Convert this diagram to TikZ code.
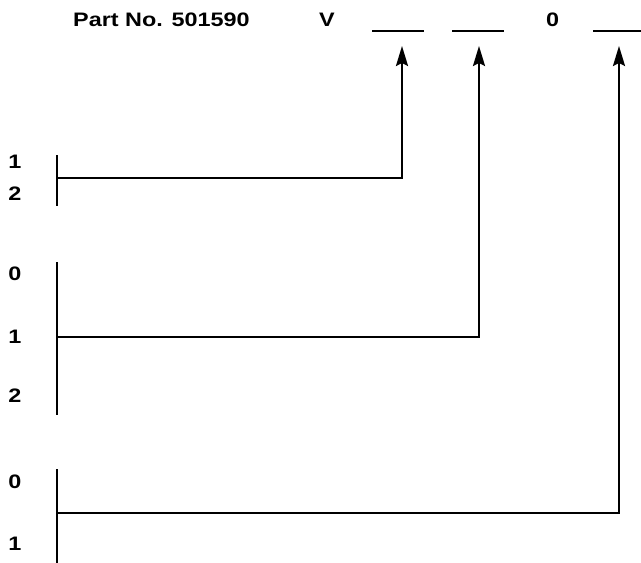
\documentclass[tikz,border=0pt]{standalone}
\usepackage{fontspec}
\setmainfont{Liberation Sans}[FakeStretch=1.2]
\usetikzlibrary{arrows.meta}

\begin{document}
\begin{tikzpicture}[
      x=1pt, y=-1pt,
      every node/.style={font=\fontsize{19.5}{22}\selectfont\bfseries, inner sep=0pt},
      digit/.style={anchor=base},
      bar/.style={line width=2.2pt},
      lead/.style={line width=2.2pt, -{Stealth[length=20pt, width=12pt, inset=3pt]}},
    ]
    \useasboundingbox (0,0) rectangle (641,563);

    % Part number
    \node[anchor=base west] (part) at (73,26) {Part No. 501590};
    \node[anchor=base west] (v) at (319,26) {V};
    \node[anchor=base west] (zero) at (546,26) {0};

    % Blanks
    \coordinate (s1w) at (372,31); \coordinate (s1e) at (424,31);
    \coordinate (s2w) at (452,31); \coordinate (s2e) at (504,31);
    \coordinate (s3w) at (593,31); \coordinate (s3e) at (641,31);
    \draw[bar] (s1w) -- (s1e);
    \draw[bar] (s2w) -- (s2e);
    \draw[bar] (s3w) -- (s3e);

    % Arrow tips
    \coordinate (a1) at (402,46);
    \coordinate (a2) at (479,46);
    \coordinate (a3) at (619,46);

    % Group 1
    \node[digit] (g1a) at (15,168) {1};
    \node[digit] (g1b) at (15,200) {2};
    \coordinate (g1t) at (57,155); \coordinate (g1d) at (57,206);
    \coordinate (j1) at (57,178);
    \draw[bar] (g1t) -- (g1d);
    \draw[lead] (j1) -| (a1);

    % Group 2
    \node[digit] (g2a) at (15,280) {0};
    \node[digit] (g2b) at (15,343) {1};
    \node[digit] (g2c) at (15,402) {2};
    \coordinate (g2t) at (57,262); \coordinate (g2d) at (57,415);
    \coordinate (j2) at (57,337);
    \draw[bar] (g2t) -- (g2d);
    \draw[lead] (j2) -| (a2);

    % Group 3
    \node[digit] (g3a) at (15,488) {0};
    \node[digit] (g3b) at (15,550) {1};
    \coordinate (g3t) at (57,469); \coordinate (g3d) at (57,563);
    \coordinate (j3) at (57,513);
    \draw[bar] (g3t) -- (g3d);
    \draw[lead] (j3) -| (a3);
  \end{tikzpicture}
\end{document}
